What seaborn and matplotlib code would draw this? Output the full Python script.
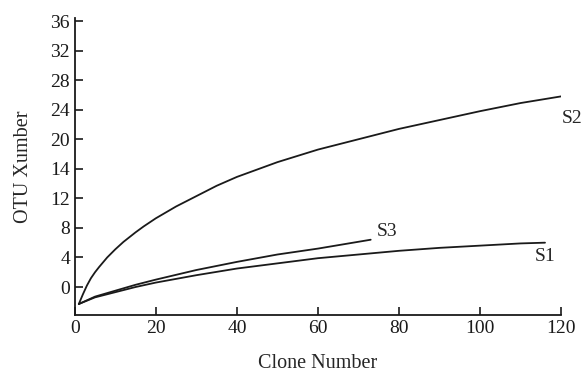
import seaborn as sns
import matplotlib.pyplot as plt
import pandas as pd

# Rarefaction curves
s1_x = [1, 5, 10, 15, 20, 30, 40, 50, 60, 70, 80, 90, 100, 110, 116]
s1_y = [-2.3, -1.4, -0.7, 0.0, 0.6, 1.6, 2.5, 3.2, 3.9, 4.4, 4.9, 5.3, 5.6, 5.9, 6.0]

s2_x = [1, 2, 3, 4, 5, 6, 8, 10, 12, 15, 17, 20, 25, 30, 35, 40, 50, 60, 70, 80, 90, 100, 110, 120]
s2_y = [-2.3, -1.0, 0.2, 1.2, 2.0, 2.7, 4.0, 5.1, 6.1, 7.4, 8.2, 9.3, 10.9, 12.3, 13.7, 14.9,
        16.9, 18.6, 20.0, 21.4, 22.6, 23.8, 24.9, 25.8]

s3_x = [1, 5, 10, 15, 20, 30, 40, 50, 60, 73]
s3_y = [-2.3, -1.3, -0.5, 0.3, 1.0, 2.3, 3.4, 4.4, 5.2, 6.4]

y_ticks = [0, 4, 8, 12, 16, 20, 24, 28, 32, 36]
y_tick_labels = ["0", "4", "8", "12", "14", "20", "24", "28", "32", "36"]
x_ticks = [0, 20, 40, 60, 80, 100, 120]

df = pd.concat([
    pd.DataFrame({"clone": s1_x, "otu": s1_y, "sample": "S1"}),
    pd.DataFrame({"clone": s2_x, "otu": s2_y, "sample": "S2"}),
    pd.DataFrame({"clone": s3_x, "otu": s3_y, "sample": "S3"}),
])

sns.set_style("ticks")
plt.rcParams["font.family"] = ["Liberation Serif", "DejaVu Serif"]

fig = plt.figure(figsize=(5.84, 3.76), dpi=100)
ax = fig.add_axes([0.128, 0.162, 0.833, 0.79])

sns.lineplot(
    data=df, x="clone", y="otu", units="sample", estimator=None,
    color="#1a1a1a", linewidth=1.3, sort=False, ax=ax,
)

# Curve labels
ax.text(122.6, 22.8, "S2", fontsize=14, ha="center", va="center")
ax.text(74.5, 7.5, "S3", fontsize=14, ha="left", va="center")
ax.text(116, 4.1, "S1", fontsize=14, ha="center", va="center")

ax.set_xlim(0, 120)
ax.set_ylim(-3.8, 36.4)
ax.set_xticks(x_ticks)
ax.set_yticks(y_ticks)
ax.set_yticklabels(y_tick_labels)
ax.tick_params(direction="in", length=6, width=1.2, labelsize=14, colors="#1a1a1a")
ax.spines["right"].set_visible(False)
ax.spines["top"].set_visible(False)
for s in ["left", "bottom"]:
    ax.spines[s].set_linewidth(1.3)
    ax.spines[s].set_color("#1a1a1a")

ax.set_xlabel("Clone Number", fontsize=14.5, labelpad=12)
ax.set_ylabel("OTU Xumber", fontsize=14.5, labelpad=12)

fig.savefig("out.png", dpi=100)
